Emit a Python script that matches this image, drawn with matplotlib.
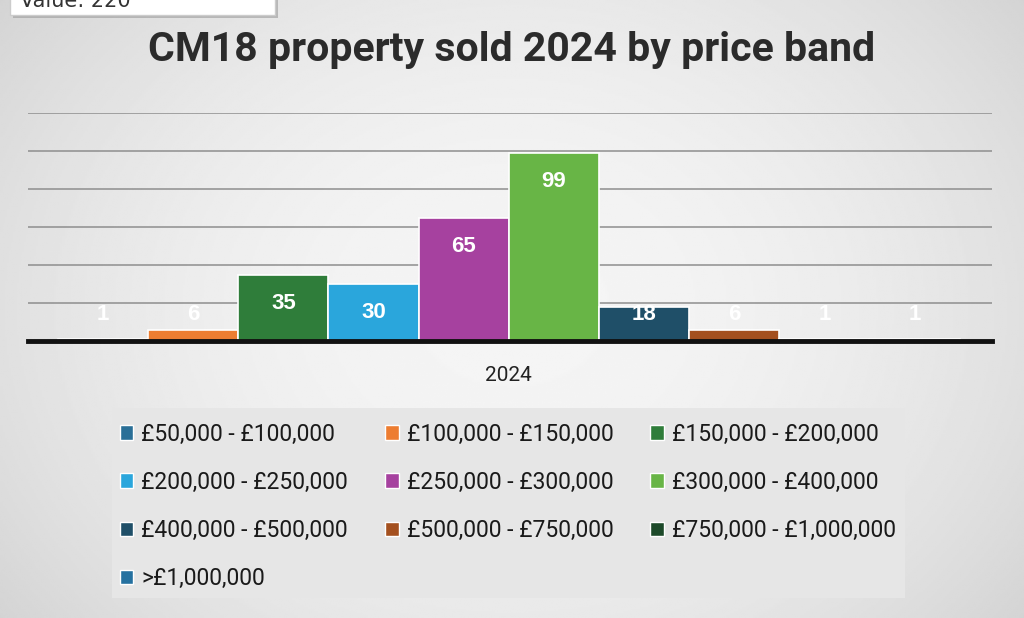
import numpy as np
import matplotlib
matplotlib.use("Agg")
import matplotlib.pyplot as plt
from matplotlib.patches import Rectangle, Patch

# data
year = "2024"
bands = [
    "£50,000 - £100,000", "£100,000 - £150,000", "£150,000 - £200,000",
    "£200,000 - £250,000", "£250,000 - £300,000", "£300,000 - £400,000",
    "£400,000 - £500,000", "£500,000 - £750,000", "£750,000 - £1,000,000",
    ">£1,000,000",
]
sold = [1, 6, 35, 30, 65, 99, 18, 6, 1, 1]
colors = ["#2a6f97", "#ed7d31", "#2f7d3a", "#2aa6dc", "#a6419f",
          "#68b546", "#1f4f68", "#a4501f", "#1d4a2a", "#2571a0"]
tooltip = "Value: 220"

fig = plt.figure(figsize=(10.24, 6.18), dpi=100)

# soft grey radial background
bg = fig.add_axes([0, 0, 1, 1], zorder=-10)
yy, xx = np.mgrid[0:1:300j, 0:1:500j]
r = np.sqrt(((xx - 0.5) / 0.72) ** 2 + ((yy - 0.5) / 0.95) ** 2)
shade = np.clip(0.96 - 0.17 * r ** 2, 0.77, 1)
bg.imshow(shade, cmap="gray", vmin=0, vmax=1, extent=[0, 1, 0, 1],
          aspect="auto", origin="lower")
bg.axis("off")

ax = fig.add_axes([28 / 1024, 1 - 341 / 618, 964 / 1024, 228 / 618])
ax.patch.set_alpha(0)
x = np.arange(len(sold))
bars = ax.bar(x, sold, width=1.0, color=colors, edgecolor="white",
              linewidth=1.2, zorder=3)
ax.set_ylim(0, 120)
ax.set_xlim(-0.5 - 0.333, 9.5 + 0.36)
ax.set_yticks(np.arange(20, 121, 20))
ax.yaxis.grid(True, color="#8e8e8e", linewidth=1.1, zorder=0)
ax.set_yticklabels([])
ax.tick_params(length=0)
for s in ["top", "right", "left"]:
    ax.spines[s].set_visible(False)
ax.spines["bottom"].set_color("#111111")
ax.spines["bottom"].set_linewidth(3.5)
ax.spines["bottom"].set_zorder(5)
ax.set_xticks([4.5])
ax.set_xticklabels([year], fontsize=15, color="#222222", family="Roboto")
ax.tick_params(axis="x", pad=18)

for xi, v in zip(x, sold):
    ax.text(xi, max(v - 15, 13.8), str(v), ha="center", va="center",
            color="white", fontsize=16, fontweight="bold",
            family="Liberation Sans", zorder=6)

fig.text(0.5, 1 - 50 / 618, "CM18 property sold 2024 by price band",
         ha="center", va="center", fontsize=29.5, fontweight="bold",
         family="Roboto", color="#2b2b2b")

# tooltip box cut off at the top edge
fig.patches.append(Rectangle((13 / 1024, 1 - 18 / 618), 265 / 1024, 30 / 618,
                             transform=fig.transFigure, facecolor="#9a9a9a",
                             edgecolor="none", alpha=0.6, zorder=1))
fig.patches.append(Rectangle((10 / 1024, 1 - 15 / 618), 265 / 1024, 30 / 618,
                             transform=fig.transFigure, facecolor="white",
                             edgecolor="#cccccc", zorder=2))
fig.text(20 / 1024, 1 - 7 / 618, tooltip, fontsize=15, color="#333333",
         va="baseline", zorder=3)

# legend box, entries laid out row by row like the original
fig.patches.append(Rectangle((112 / 1024, 1 - 598 / 618), 793 / 1024, 190 / 618,
                             transform=fig.transFigure, facecolor="#e6e6e6",
                             edgecolor="none", zorder=0))
order = [0, 3, 6, 9, 1, 4, 7, 2, 5, 8]
handles = [Patch(facecolor=colors[i], edgecolor="white") for i in order]
labels = [bands[i] for i in order]
leg = fig.legend(handles, labels, ncol=3, loc="upper left",
                 bbox_to_anchor=(99 / 1024, 1 - 402 / 618),
                 frameon=False, handlelength=0.6, handleheight=0.6,
                 handletextpad=0.35, columnspacing=1.6, labelspacing=1.1,
                 prop={"family": "Roboto", "size": 16.5})
for t in leg.get_texts():
    t.set_color("#1a1a1a")

fig.savefig("out.png", dpi=100)
